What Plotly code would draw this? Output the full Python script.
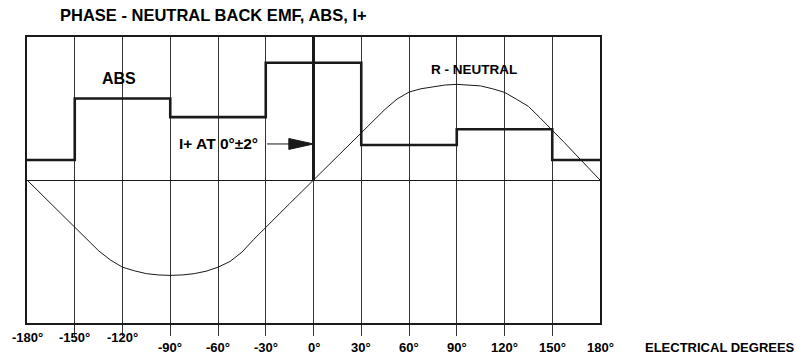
import plotly.graph_objects as go

# ---- data ----
ANGLES = [-180, -172.5, -165, -157.5, -150, -142.5, -135, -127.5, -120, -112.5, -105, -97.5,
          -90, -82.5, -75, -67.5, -60, -52.5, -45, -37.5, -30, -22.5, -15, -7.5,
          0, 7.5, 15, 22.5, 30, 37.5, 45, 52.5, 60, 67.5, 75, 82.5,
          90, 97.5, 105, 112.5, 120, 127.5, 135, 142.5, 150, 157.5, 165, 172.5, 180]
R_NEUTRAL = [0, -8.2, -16.4, -24.5, -32.6, -41, -49.5, -56, -61, -63.5, -65.5, -66.4,
             -66.7, -66.4, -65.5, -63.8, -61, -57, -50.5, -41.5, -33, -24.8, -16.5, -8.3,
             0, 8.3, 16.6, 25, 33.3, 41.6, 49.5, 56.6, 61.5, 63.8, 65.3, 66.4,
             66.9, 66.6, 65.8, 63.8, 61.3, 56.5, 51.5, 43.3, 35, 26.3, 17.5, 8.8, 0]

ABS_EDGES = [-180, -150, -90, -30, 30, 90, 150, 180]
ABS_LEVELS = [14, 57, 44, 82, 24.5, 35.5, 14, 14]

I_PLUS_ANGLE = 0
TICK_VALUES = [-180, -150, -120, -90, -60, -30, 0, 30, 60, 90, 120, 150, 180]
TICK_LABELS = ["-180°", "-150°", "-120°", "-90°", "-60°", "-30°", "0°", "30°",
               "60°", "90°", "120°", "150°", "180°"]

FONT = "Arial, 'Liberation Sans', sans-serif"
INK = "#1a1a1a"

fig = go.Figure()

fig.add_trace(go.Scatter(x=ANGLES, y=R_NEUTRAL, mode="lines",
                         line=dict(color=INK, width=1), hoverinfo="skip"))
fig.add_trace(go.Scatter(x=ABS_EDGES, y=ABS_LEVELS, mode="lines", line_shape="hv",
                         line=dict(color=INK, width=2.6), hoverinfo="skip"))
fig.add_trace(go.Scatter(x=[I_PLUS_ANGLE, I_PLUS_ANGLE], y=[0, 100], mode="lines",
                         line=dict(color=INK, width=3), hoverinfo="skip"))

annotations = []
for i, (v, t) in enumerate(zip(TICK_VALUES, TICK_LABELS)):
    annotations.append(dict(x=v, y=0, xref="x", yref="paper", text=t, showarrow=False,
                            xanchor="center", yanchor="middle",
                            yshift=-14.5 if v < -90 else -24.5,
                            font=dict(family=FONT, size=13, color="black", weight="bold")))

annotations += [
    dict(x=0.054, y=1.077, xref="paper", yref="paper", text="PHASE - NEUTRAL BACK EMF, ABS, I+",
         showarrow=False, xanchor="left", yanchor="middle",
         font=dict(family=FONT, size=16.5, color="black", weight="bold")),
    dict(x=1.0 + (720 - 600) / 573, y=0, xref="paper", yref="paper", text="ELECTRICAL DEGREES",
         showarrow=False, xanchor="center", yanchor="middle", yshift=-24.5,
         font=dict(family=FONT, size=13, color="black", weight="bold")),
    dict(x=-122, y=71.3, xref="x", yref="y", text="ABS", showarrow=False,
         font=dict(family=FONT, size=16, color="black", weight="bold")),
    dict(x=101, y=77.6, xref="x", yref="y", text="R - NEUTRAL", showarrow=False,
         font=dict(family=FONT, size=13.5, color="black", weight="bold")),
    dict(x=-59.5, y=25.2, xref="x", yref="y", text="I+ AT 0°±2°", showarrow=False,
         font=dict(family=FONT, size=15.5, color="black", weight="bold")),
]

ARROW_Y = 25.2
shapes = [
    dict(type="line", xref="x", yref="y", x0=-29.2, x1=-14, y0=ARROW_Y, y1=ARROW_Y,
         line=dict(color=INK, width=1)),
    dict(type="path", xref="x", yref="y",
         path=f"M -15.5 {ARROW_Y + 3.8} L {I_PLUS_ANGLE} {ARROW_Y} L -15.5 {ARROW_Y - 3.8} Z",
         fillcolor=INK, line=dict(color=INK, width=1)),
]

fig.update_layout(
    width=796, height=358,
    margin=dict(l=27, r=196, t=37, b=35),
    paper_bgcolor="white", plot_bgcolor="white",
    showlegend=False,
    annotations=annotations,
    shapes=shapes,
    xaxis=dict(range=[-180, 180], tickvals=TICK_VALUES[1:-1], showticklabels=False,
               showgrid=True, gridcolor="#333", gridwidth=1,
               ticks="outside", ticklen=11, tickcolor="#333", tickwidth=1,
               showline=True, mirror=True, linecolor=INK, linewidth=1.5,
               zeroline=False, fixedrange=True),
    yaxis=dict(range=[-100, 100], showticklabels=False, showgrid=False, ticks="",
               showline=True, mirror=True, linecolor=INK, linewidth=1.5,
               zeroline=True, zerolinecolor=INK, zerolinewidth=1, fixedrange=True),
)

fig.write_html("out.html", config={"displayModeBar": False},
               post_script="document.body.style.margin='0';document.body.style.overflow='hidden';")
